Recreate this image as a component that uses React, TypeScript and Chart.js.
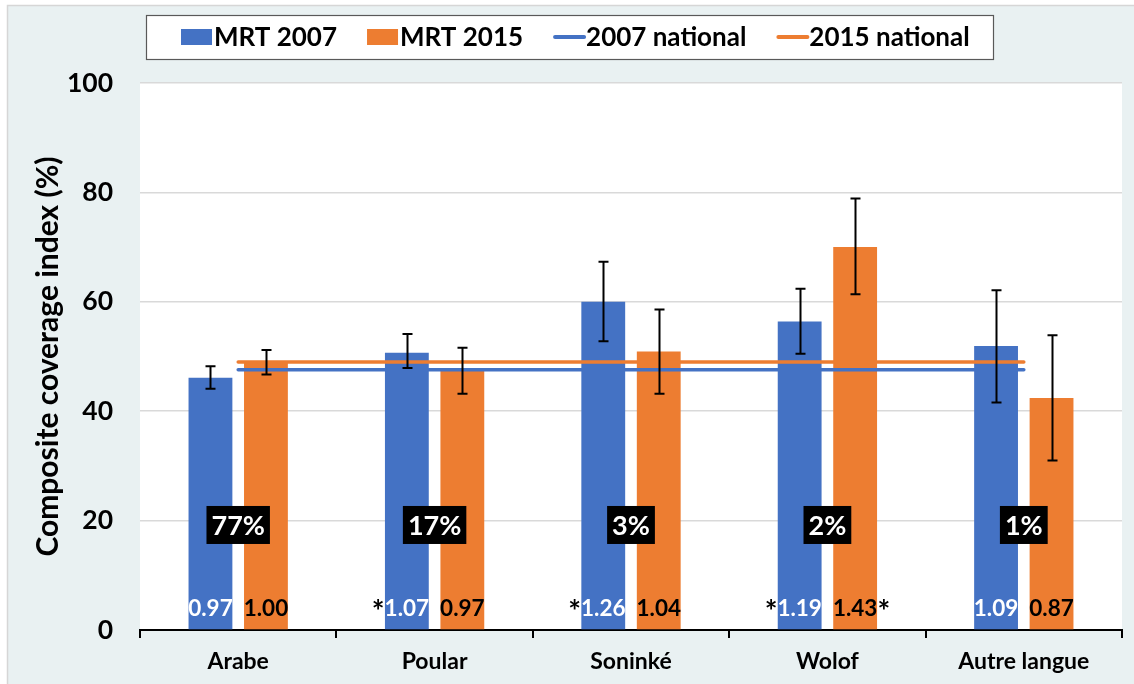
import React, { useEffect, useRef } from "react";
import { Chart, registerables } from "chart.js";

Chart.register(...registerables);

// ---------- data ----------
const categories = ["Arabe", "Poular", "Soninké", "Wolof", "Autre langue"];
const mrt2007 = [46.1, 50.7, 60.0, 56.4, 51.9];
const mrt2015 = [49.0, 47.6, 50.9, 70.0, 42.4];
const err2007Low = [44.1, 47.9, 52.8, 50.5, 41.6];
const err2007High = [48.2, 54.1, 67.3, 62.4, 62.1];
const err2015Low = [46.7, 43.2, 43.2, 61.4, 31.0];
const err2015High = [51.2, 51.6, 58.6, 78.9, 53.9];
const national2007 = 47.6;
const national2015 = 49.0;
const shareLabels = ["77%", "17%", "3%", "2%", "1%"];
const ratio2007 = ["0.97", "1.07", "1.26", "1.19", "1.09"];
const ratio2015 = ["1.00", "0.97", "1.04", "1.43", "0.87"];
const star2007 = [false, true, true, true, false];
const star2015 = [false, false, false, true, false];
const yMin = 0;
const yMax = 100;
const yStep = 20;

// ---------- style ----------
const BLUE = "#4472C4";
const ORANGE = "#ED7D31";
const FONT = "Lato, 'Open Sans', sans-serif";
const W = 1134;
const H = 684;

const backgroundPlugin = {
  id: "bgFrame",
  beforeDraw(chart: any) {
    const { ctx, chartArea } = chart;
    ctx.save();
    ctx.fillStyle = "#FFFFFF";
    ctx.fillRect(0, 0, W, H);
    ctx.fillStyle = "#E9F1F2";
    ctx.fillRect(7, 5, W - 7, H - 5);
    ctx.strokeStyle = "#D6D6D6";
    ctx.lineWidth = 1.5;
    ctx.beginPath();
    ctx.moveTo(7.5, H);
    ctx.lineTo(7.5, 5.5);
    ctx.lineTo(W, 5.5);
    ctx.stroke();
    ctx.fillStyle = "#FFFFFF";
    ctx.fillRect(chartArea.left, chartArea.top, chartArea.right - chartArea.left, chartArea.bottom - chartArea.top);
    ctx.restore();
  },
};

const legendPlugin = {
  id: "boxLegend",
  afterDraw(chart: any) {
    const { ctx } = chart;
    const boxL = 146, boxR = 993, boxT = 15, boxB = 59;
    ctx.save();
    ctx.fillStyle = "#FFFFFF";
    ctx.fillRect(boxL, boxT, boxR - boxL, boxB - boxT);
    ctx.strokeStyle = "#595959";
    ctx.lineWidth = 1.2;
    ctx.strokeRect(boxL + 0.5, boxT + 0.5, boxR - boxL, boxB - boxT);
    ctx.font = `bold 26px ${FONT}`;
    ctx.textBaseline = "middle";
    ctx.textAlign = "left";
    const cy = (boxT + boxB) / 2;
    let x = 181;
    chart.data.datasets.forEach((ds: any) => {
      const isLine = ds.type === "line";
      ctx.fillStyle = isLine ? ds.borderColor : ds.backgroundColor;
      if (isLine) {
        ctx.strokeStyle = ds.borderColor;
        ctx.lineWidth = 4;
        ctx.lineCap = "round";
        ctx.beginPath();
        ctx.moveTo(x + 2, cy);
        ctx.lineTo(x + 31, cy);
        ctx.stroke();
      } else {
        ctx.fillRect(x, cy - 8, 31, 16);
      }
      x += 33;
      ctx.fillStyle = "#000000";
      ctx.fillText(ds.label, x, cy + 1);
      x += ctx.measureText(ds.label).width + 30;
    });
    ctx.restore();
  },
};

const annotationPlugin = {
  id: "errAndLabels",
  afterDatasetsDraw(chart: any) {
    const { ctx, chartArea } = chart;
    const yScale = chart.scales.y;
    const xScale = chart.scales.x;
    const errs = [
      { low: err2007Low, high: err2007High },
      { low: err2015Low, high: err2015High },
    ];
    ctx.save();
    // error bars
    [0, 1].forEach((di) => {
      const meta = chart.getDatasetMeta(di);
      meta.data.forEach((bar: any, i: number) => {
        const x = Math.round(bar.x) + 0.5;
        const yl = yScale.getPixelForValue(errs[di].low[i]);
        const yh = yScale.getPixelForValue(errs[di].high[i]);
        ctx.strokeStyle = "#000000";
        ctx.lineWidth = 2;
        ctx.lineCap = "butt";
        ctx.beginPath();
        ctx.moveTo(x, yl);
        ctx.lineTo(x, yh);
        ctx.moveTo(x - 5, yl);
        ctx.lineTo(x + 5, yl);
        ctx.moveTo(x - 5, yh);
        ctx.lineTo(x + 5, yh);
        ctx.stroke();
      });
    });

    // ratio labels at the base of bars
    const ratios = [ratio2007, ratio2015];
    const stars = [star2007, star2015];
    const textColors = ["#FFFFFF", "#000000"];
    const ly = chartArea.bottom - 21;
    ctx.textBaseline = "middle";
    [0, 1].forEach((di) => {
      const meta = chart.getDatasetMeta(di);
      meta.data.forEach((bar: any, i: number) => {
        const txt = ratios[di][i];
        ctx.font = `bold 22.5px ${FONT}`;
        const w = ctx.measureText(txt).width;
        ctx.textAlign = "center";
        ctx.fillStyle = textColors[di];
        ctx.fillText(txt, bar.x, ly);
        if (stars[di][i]) {
          ctx.font = `bold 30px ${FONT}`;
          ctx.fillStyle = "#000000";
          if (di === 0) {
            ctx.textAlign = "right";
            ctx.fillText("*", bar.x - w / 2, ly + 3);
          } else {
            ctx.textAlign = "left";
            ctx.fillText("*", bar.x + w / 2, ly + 3);
          }
        }
      });
    });

    // share boxes
    ctx.font = `bold 27px ${FONT}`;
    ctx.textAlign = "center";
    const by = yScale.getPixelForValue(19.2);
    shareLabels.forEach((t, i) => {
      const cx = xScale.getPixelForValue(i);
      const w = ctx.measureText(t).width + 10;
      const h = 38;
      ctx.fillStyle = "#000000";
      ctx.fillRect(cx - w / 2, by - h / 2, w, h);
      ctx.fillStyle = "#FFFFFF";
      ctx.fillText(t, cx, by + 1);
    });
    ctx.restore();
  },
};

export default function App() {
  const ref = useRef<HTMLCanvasElement | null>(null);

  useEffect(() => {
    if (!ref.current) return;
    const chart = new Chart(ref.current, {
      type: "bar",
      data: {
        labels: categories,
        datasets: [
          {
            type: "bar",
            label: "MRT 2007",
            data: mrt2007,
            backgroundColor: BLUE,
            order: 2,
            categoryPercentage: 0.565,
            barPercentage: 0.79,
          },
          {
            type: "bar",
            label: "MRT 2015",
            data: mrt2015,
            backgroundColor: ORANGE,
            order: 2,
            categoryPercentage: 0.565,
            barPercentage: 0.79,
          },
          {
            type: "line",
            label: "2007 national",
            data: categories.map(() => national2007),
            borderColor: BLUE,
            backgroundColor: BLUE,
            borderWidth: 3.5,
            borderCapStyle: "round",
            pointRadius: 0,
            fill: false,
            order: 1,
          },
          {
            type: "line",
            label: "2015 national",
            data: categories.map(() => national2015),
            borderColor: ORANGE,
            backgroundColor: ORANGE,
            borderWidth: 3.5,
            borderCapStyle: "round",
            pointRadius: 0,
            fill: false,
            order: 1,
          },
        ] as any,
      },
      options: {
        responsive: false,
        animation: false,
        devicePixelRatio: 1,
        layout: { padding: { top: 83, right: 12, left: 0, bottom: 0 } },
        plugins: {
          legend: { display: false },
          tooltip: { enabled: false },
        },
        scales: {
          x: {
            type: "category",
            offset: true,
            afterFit: (s: any) => {
              s.height = 54;
            },
            grid: {
              offset: true,
              drawOnChartArea: false,
              drawTicks: true,
              tickLength: 8,
              color: "#000000",
              lineWidth: 2,
            },
            border: { display: true, color: "#000000", width: 2 },
            ticks: {
              color: "#000000",
              font: { family: FONT, size: 23, weight: "bold" },
              padding: 10,
            },
          },
          y: {
            min: yMin,
            max: yMax,
            afterFit: (s: any) => {
              s.width = 140;
            },
            grid: {
              drawTicks: false,
              color: (c: any) => (c.tick && c.tick.value === 0 ? "rgba(0,0,0,0)" : "#D9D9D9"),
              lineWidth: 1.5,
            },
            border: { display: false },
            ticks: {
              stepSize: yStep,
              color: "#000000",
              font: { family: FONT, size: 26.5, weight: "bold" },
              padding: 27,
            },
            title: {
              display: true,
              text: "Composite coverage index (%)",
              color: "#000000",
              font: { family: FONT, size: 30, weight: "bold" },
              padding: { top: 30, bottom: 0 },
            },
          },
        },
      } as any,
      plugins: [backgroundPlugin, annotationPlugin, legendPlugin],
    });
    return () => chart.destroy();
  }, []);

  return (
    <div style={{ position: "fixed", left: 0, top: 0, width: W, height: H, background: "#FFFFFF" }}>
      <canvas ref={ref} width={W} height={H} style={{ display: "block", width: W, height: H }} />
    </div>
  );
}
